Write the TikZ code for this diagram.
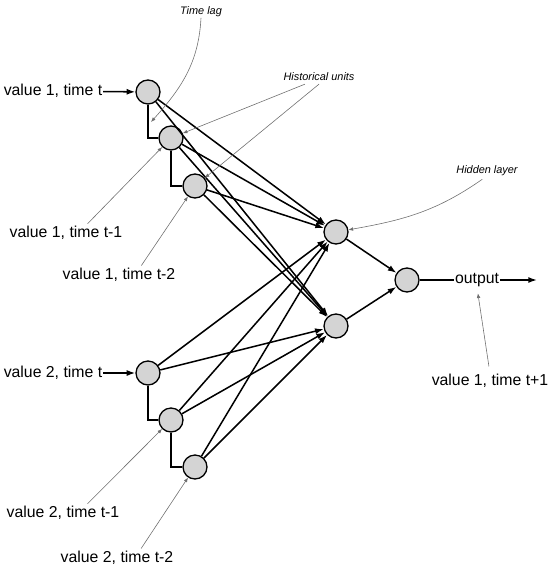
\documentclass[tikz,border=0pt]{standalone}
\usepackage{fontspec}
\setmainfont{Liberation Sans}
\usetikzlibrary{arrows.meta}

\definecolor{unitgray}{RGB}{212,212,212}
\definecolor{notegray}{RGB}{110,110,110}

\begin{document}
\begin{tikzpicture}[x=0.03cm, y=-0.03cm,
    unit/.style={circle, draw=black, line width=1.1pt, fill=unitgray, minimum size=0.72cm, inner sep=0pt},
    lbl/.style={inner sep=0.5pt, font=\fontsize{13.5}{16}\selectfont},
    note/.style={inner sep=0.5pt, font=\fontsize{9.3}{11}\selectfont\itshape},
    link/.style={-{Latex[length=2.6mm, width=1.8mm]}, line width=1.3pt},
    lag/.style={line width=2.3pt},
    pointer/.style={-{Latex[length=1.4mm, width=1.1mm]}, draw=notegray, line width=0.5pt}]
    \useasboundingbox (0,0) rectangle (550,568);

    \node[unit] (x1a) at (148, 92) {};
    \node[unit] (x1b) at (171, 138) {};
    \node[unit] (x1c) at (195, 186) {};
    \node[unit] (x2a) at (148, 373) {};
    \node[unit] (x2b) at (171, 420) {};
    \node[unit] (x2c) at (195, 467) {};

    \node[unit] (h1) at (336, 232) {};
    \node[unit] (h2) at (336, 326) {};
    \node[unit] (y) at (407, 280) {};

    \node[lbl] (in1) at (53, 91) {value 1, time t};
    \node[lbl] (in2) at (53, 373) {value 2, time t};
    \node[lbl] (v1b) at (66, 233) {value 1, time t-1};
    \node[lbl] (v1c) at (119, 275) {value 1, time t-2};
    \node[lbl] (v2b) at (63, 513) {value 2, time t-1};
    \node[lbl] (v2c) at (117, 558) {value 2, time t-2};
    \node[lbl] (out) at (477, 280) {output};
    \node[lbl] (v1n) at (490, 381) {value 1, time t+1};
    \coordinate (outend) at (537, 280);

    \node[note] (timelag) at (201, 12) {Time lag};
    \node[note] (hist) at (319, 77) {Historical units};
    \node[note] (hidden) at (487, 171) {Hidden layer};
    \coordinate (lagtip) at (151, 122);

    \draw[link] (in1) -- (x1a);
    \draw[link] (in2) -- (x2a);

    \draw[lag] (x1a.south) |- (x1b.west);
    \draw[lag] (x1b.south) |- (x1c.west);
    \draw[lag] (x2a.south) |- (x2b.west);
    \draw[lag] (x2b.south) |- (x2c.west);

    \draw[link] (x1a) -- (h1);
    \draw[link] (x1a) -- (h2);
    \draw[link] (x1b) -- (h1);
    \draw[link] (x1b) -- (h2);
    \draw[link] (x1c) -- (h1);
    \draw[link] (x1c) -- (h2);
    \draw[link] (x2a) -- (h1);
    \draw[link] (x2a) -- (h2);
    \draw[link] (x2b) -- (h1);
    \draw[link] (x2b) -- (h2);
    \draw[link] (x2c) -- (h1);
    \draw[link] (x2c) -- (h2);

    \draw[link] (h1) -- (y);
    \draw[link] (h2) -- (y);
    \draw[line width=1.3pt] (y) -- (out);
    \draw[link] (out) -- (outend);

    \draw[pointer] (timelag.south) to[out=-93, in=48] (lagtip);
    \draw[pointer] ([xshift=-12pt, yshift=-2pt]hist.south) -- (x1b);
    \draw[pointer] ([yshift=-2pt]hist.south) -- (x1c);
    \draw[pointer] ([xshift=-4pt, yshift=-2pt]hidden.south) to[out=-145, in=10] (h1);
    \draw[pointer, shorten <=2pt] ([xshift=17pt]v1b.north) -- (x1b);
    \draw[pointer, shorten <=2pt] ([xshift=18pt]v1c.north) -- (x1c);
    \draw[pointer, shorten <=2pt] ([xshift=19.5pt]v2b.north) -- (x2b);
    \draw[pointer, shorten <=2pt] ([xshift=19.5pt]v2c.north) -- (x2c);
    \draw[pointer, shorten <=6pt, shorten >=5pt] (v1n.north) -- (out.south);
\end{tikzpicture}
\end{document}
